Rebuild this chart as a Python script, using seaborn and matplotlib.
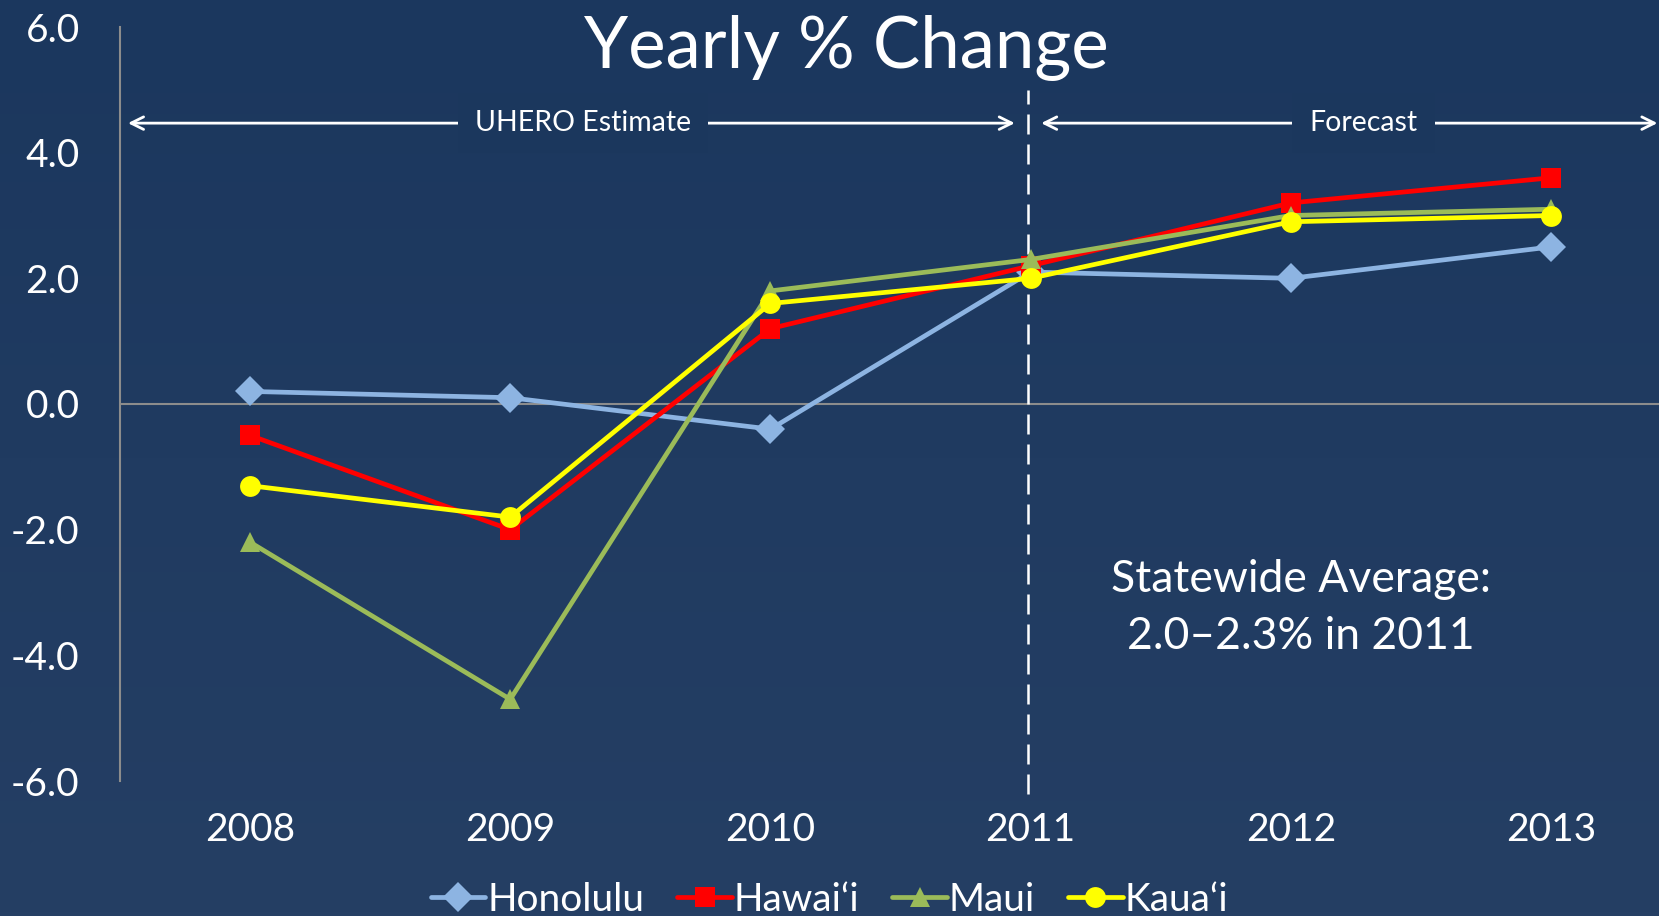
import numpy as np
import pandas as pd
import matplotlib
matplotlib.use("Agg")
import matplotlib.pyplot as plt
import seaborn as sns
from matplotlib.lines import Line2D

years = [2008, 2009, 2010, 2011, 2012, 2013]
honolulu = [0.2, 0.1, -0.4, 2.1, 2.0, 2.5]
hawaii = [-0.5, -2.0, 1.2, 2.2, 3.2, 3.6]
maui = [-2.2, -4.7, 1.8, 2.3, 3.0, 3.1]
kauai = [-1.3, -1.8, 1.6, 2.0, 2.9, 3.0]
regions = ["Honolulu", "Hawai\u2018i", "Maui", "Kaua\u2018i"]
y_ticks = [-6.0, -4.0, -2.0, 0.0, 2.0, 4.0, 6.0]

colors = {regions[0]: "#8DB4E2", regions[1]: "#FF0000", regions[2]: "#9BBB59", regions[3]: "#FFFF00"}
markers = {regions[0]: "D", regions[1]: "s", regions[2]: "^", regions[3]: "o"}

df = pd.DataFrame({
    "Year": years * 4,
    "Change": honolulu + hawaii + maui + kauai,
    "Region": sum([[r] * len(years) for r in regions], []),
})

sns.set_style("white")
plt.rcParams["font.family"] = ["Lato", "DejaVu Sans"]

W, H = 1659, 916
fig = plt.figure(figsize=(W / 100, H / 100), dpi=100)

# background gradient
bg = fig.add_axes([0, 0, 1, 1], zorder=-10)
top = np.array([27, 55, 94]) / 255
bot = np.array([37, 63, 100]) / 255
t = np.linspace(0, 1, 256)[:, None]
grad = (top[None, :] * (1 - t) + bot[None, :] * t)[:, None, :]
bg.imshow(grad, aspect="auto", extent=[0, 1, 0, 1])
bg.set_axis_off()

ax = fig.add_axes([120 / W, 135 / H, (1681 - 120) / W, (889 - 135) / H])
ax.patch.set_alpha(0)

sns.lineplot(data=df, x="Year", y="Change", hue="Region", style="Region",
             palette=colors, markers=markers, dashes=False, linewidth=3.4,
             markersize=15, markeredgewidth=0, ax=ax, legend=False, sort=False)
for ln in ax.lines:
    ln.set_clip_on(False)

ax.set_xlim(2007.5, 2013.5)
ax.set_ylim(-6, 6)
ax.set_xticks(years)
ax.set_xticklabels([str(y) for y in years])
ax.set_yticks(y_ticks)
ax.set_yticklabels([f"{v:.1f}" for v in y_ticks])
ax.tick_params(axis="both", colors="white", length=0, labelsize=28)
ax.tick_params(axis="x", pad=22)
ax.tick_params(axis="y", pad=29)
for lab in ax.get_xticklabels() + ax.get_yticklabels():
    lab.set_color("white")
ax.set_xlabel("")
ax.set_ylabel("")
for s in ["top", "right", "bottom"]:
    ax.spines[s].set_visible(False)
ax.spines["left"].set_color("#8C8C8C")
ax.spines["left"].set_linewidth(1.5)
ax.axhline(0, color="#8C8C8C", linewidth=1.5, zorder=0)

# vertical dashed divider
ax.axvline(2011 - 0.01, ymin=(-6.2 + 6) / 12, ymax=(5.0 + 6) / 12, color="white",
           linewidth=1.8, dashes=(8, 4), clip_on=False, zorder=1)

# arrows
arrow_y = 4.47
ax.annotate("", xy=(2007.52, arrow_y), xytext=(2010.95, arrow_y),
            arrowprops=dict(arrowstyle="<->,head_length=0.9,head_width=0.45", color="white", lw=2),
            annotation_clip=False)
ax.annotate("", xy=(2011.03, arrow_y), xytext=(2013.42, arrow_y),
            arrowprops=dict(arrowstyle="<->,head_length=0.9,head_width=0.45", color="white", lw=2),
            annotation_clip=False)
ax.text(2009.28, arrow_y, "UHERO Estimate", color="white", fontsize=20.5, ha="center", va="center",
        bbox=dict(boxstyle="square,pad=0.6", fc="#1B375D", ec="none"), zorder=5)
ax.text(2012.28, arrow_y, "Forecast", color="white", fontsize=20.5, ha="center", va="center",
        bbox=dict(boxstyle="square,pad=0.6", fc="#1B375D", ec="none"), zorder=5)

# title
fig.text(846 / W, 1 - 48 / H, "Yearly % Change", color="white", fontsize=51,
         ha="center", va="center")

# statewide note
ax.text(2012.04, -3.25, "Statewide Average:\n2.0\u20132.3% in 2011", color="white",
        fontsize=32, ha="center", va="center", linespacing=1.5)

handles = [Line2D([0], [0], color=colors[r], marker=markers[r], linewidth=3.4,
                  markersize=15, markeredgewidth=0) for r in regions]
leg = fig.legend(handles, regions, loc="center", bbox_to_anchor=(0.5, 16 / H), ncol=4,
                 frameon=False, fontsize=28, handlelength=1.4, handletextpad=0.05,
                 columnspacing=0.85, labelcolor="white")

fig.savefig("out.png", dpi=100)
